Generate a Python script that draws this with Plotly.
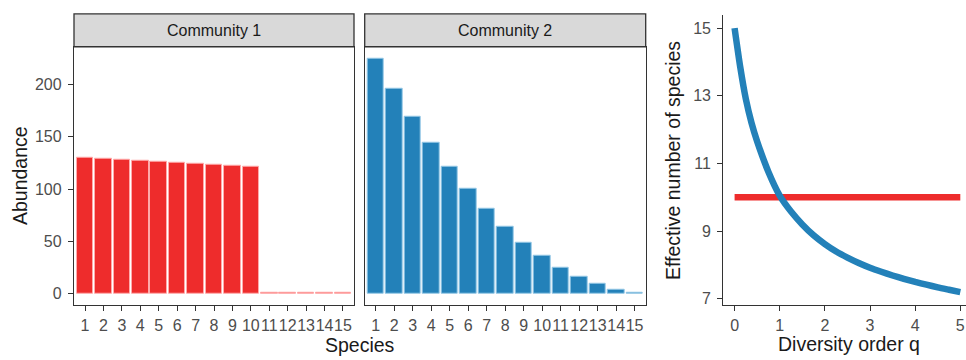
import plotly.graph_objects as go

# ---- data ----
species = [str(i) for i in range(1, 16)]
community1 = [130, 129, 128, 127, 126, 125, 124, 123, 122, 121, 1, 1, 1, 1, 1]
community2 = [225, 196, 169, 144, 121, 100, 81, 64, 49, 36, 25, 16, 9, 4, 1]
q_values = [0, 0.125, 0.25, 0.375, 0.5, 0.75, 1.0, 1.25, 1.5, 1.75, 2.0, 2.25, 2.5, 2.75,
            3.0, 3.25, 3.5, 3.75, 4.0, 4.25, 4.5, 4.75, 5.0]
hill_comm2 = [15.0, 13.85, 12.9, 12.2, 11.65, 10.75, 10.05, 9.58, 9.2, 8.88, 8.62, 8.4, 8.22, 8.06,
              7.92, 7.8, 7.69, 7.59, 7.5, 7.42, 7.34, 7.27, 7.2]
hill_comm1 = [10.0] * len(q_values)
abund_ticks = [0, 50, 100, 150, 200]
hill_ticks = [7, 9, 11, 13, 15]
q_ticks = [0, 1, 2, 3, 4, 5]

RED = "#EE2C2C"
BLUE = "#2381B9"
W, H = 966, 360
FONT = "Liberation Sans, Arial, sans-serif"


def px(x):
    return x / W


def py(y):
    return (H - y) / H


fig = go.Figure()

fig.add_trace(go.Bar(x=species, y=community1, marker=dict(color=RED, line=dict(color="rgba(255,170,170,1)", width=1)),
                     width=0.9, xaxis="x", yaxis="y", showlegend=False))
fig.add_trace(go.Bar(x=species, y=community2, marker=dict(color=BLUE, line=dict(color="rgba(150,200,230,1)", width=1)),
                     width=0.9, xaxis="x2", yaxis="y2", showlegend=False))
fig.add_trace(go.Scatter(x=q_values, y=hill_comm1, mode="lines", line=dict(color=RED, width=6.5),
                         xaxis="x3", yaxis="y3", showlegend=False))
fig.add_trace(go.Scatter(x=q_values, y=hill_comm2, mode="lines", line=dict(color=BLUE, width=6.5, shape="spline", smoothing=0.6),
                         xaxis="x3", yaxis="y3", showlegend=False))

tickfont = dict(family=FONT, size=16, color="#4D4D4D")
axis_common = dict(showgrid=False, zeroline=False, showline=True, linecolor="#333333", linewidth=1.3,
                   ticks="outside", ticklen=5, tickwidth=1.1, tickcolor="#333333", tickfont=tickfont)

ydom12 = [py(307), py(47)]
yrange12 = [-11.2, 236.3]
fig.update_layout(
    width=W, height=H, margin=dict(l=0, r=0, t=0, b=0),
    paper_bgcolor="white", plot_bgcolor="white", bargap=0,
    xaxis=dict(domain=[px(74), px(354)], range=[-0.6, 14.6], type="category", mirror=True,
               anchor="y", tickangle=0, tickmode="array", tickvals=species, ticktext=species, **axis_common),
    yaxis=dict(domain=ydom12, range=yrange12, tickvals=abund_ticks, mirror=True, anchor="x",
               ticklabelstandoff=3, **axis_common),
    xaxis2=dict(domain=[px(364.7), px(645.7)], range=[-0.6, 14.6], type="category", mirror=True,
                anchor="y2", tickangle=0, tickmode="array", tickvals=species, ticktext=species, **axis_common),
    yaxis2=dict(domain=ydom12, range=yrange12, tickvals=abund_ticks, mirror=True, anchor="x2",
                showticklabels=False, **{k: v for k, v in axis_common.items() if k != "ticks"}, ticks=""),
    xaxis3=dict(domain=[px(723.3), 1.0], range=[-0.25, 5.126], tickvals=q_ticks, anchor="y3",
                tickangle=0, **axis_common),
    yaxis3=dict(domain=[py(307), py(15)], range=[6.81, 15.39], tickvals=hill_ticks, anchor="x3",
                ticklabelstandoff=3, **axis_common),
)

# facet strips
for x0, x1, label in [(74, 354, "Community 1"), (364.7, 645.7, "Community 2")]:
    fig.add_shape(type="rect", xref="paper", yref="paper", x0=px(x0), x1=px(x1), y0=py(47), y1=py(14),
                  fillcolor="#D9D9D9", line=dict(color="#333333", width=1.3), layer="above")
    fig.add_annotation(text=label, xref="paper", yref="paper", x=px((x0 + x1) / 2), y=py(30.5),
                       showarrow=False, font=dict(family=FONT, size=16, color="#1A1A1A"),
                       xanchor="center", yanchor="middle")

title_font = dict(family=FONT, size=19.5, color="#1A1A1A")
fig.add_annotation(text="Abundance", xref="paper", yref="paper", x=px(20), y=py(177), textangle=-90,
                   showarrow=False, font=title_font, xanchor="center", yanchor="middle")
fig.add_annotation(text="Species", xref="paper", yref="paper", x=px(360), y=py(347),
                   showarrow=False, font=title_font, xanchor="center", yanchor="middle")
fig.add_annotation(text="Diversity order q", xref="paper", yref="paper", x=px(849), y=py(346),
                   showarrow=False, font=title_font, xanchor="center", yanchor="middle")
fig.add_annotation(text="Effective number of species", xref="paper", yref="paper", x=px(673), y=py(162),
                   textangle=-90, showarrow=False, font=title_font, xanchor="center", yanchor="middle")

fig.write_html("out.html", config={"displayModeBar": False},
               post_script="document.body.style.margin='0px';")
